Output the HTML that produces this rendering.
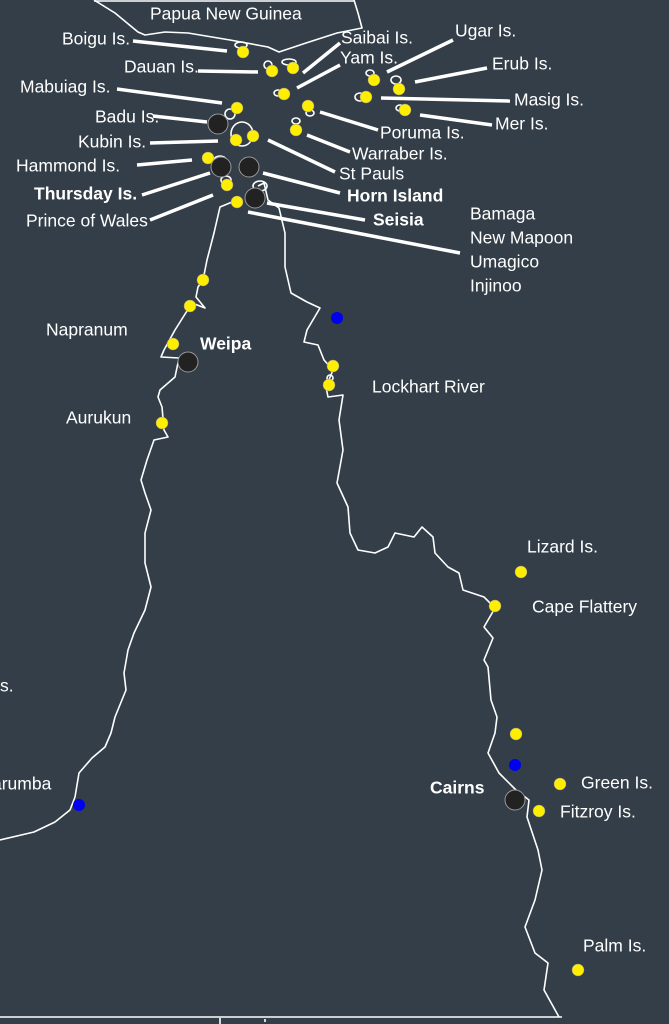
<!DOCTYPE html>
<html><head><meta charset="utf-8"><style>
html,body{margin:0;padding:0;background:#333e48;}
svg{display:block}
text{font-family:"Liberation Sans",sans-serif;font-size:17.5px;fill:#fff;dominant-baseline:middle}
.b{font-weight:bold}
</style></head><body>
<svg width="669" height="1024" viewBox="0 0 669 1024" xmlns="http://www.w3.org/2000/svg">
<rect width="669" height="1024" fill="#333e48"/>
<g fill="none" stroke="#fff" stroke-width="1.6" stroke-linejoin="round">
<path d="M94,0 L115,13 L138,32 L145,35 L165,32 L188,33 L230,40 L268,47 L279,52 L306,43 L337,33 L362,28 L358,13 L354,0"/>
<line x1="94" y1="1" x2="354" y2="1"/>
<path d="M237,200 L220,207 L214,233 L207,260 L203,280 L198,287 L196,297 L205,308 L192,303 L175,330 L164,350 L161,357 L179,358 L175,377 L160,390 L158,397 L162,407 L164,430 L168,437 L154,440 L147,460 L141,480 L145,493 L151,510 L145,533 L145,563 L151,587 L145,610 L134,633 L128,650 L124,673 L126,690 L115,717 L111,733 L105,747 L92,758 L79,773 L75,797 L70,810 L55,822 L34,832 L0,840"/>
<path d="M258,186 L264,183 L268,200 L279,208 L285,233 L285,267 L291,293 L307,302 L320,308 L307,330 L304,342 L318,345 L324,360 L333,370 L326,387 L328,397 L343,395 L339,420 L343,450 L337,483 L348,507 L350,533 L358,550 L375,553 L388,547 L395,533 L414,537 L422,527 L433,537 L435,553 L448,567 L459,573 L463,590 L484,597 L495,608 L484,627 L493,638 L484,660 L488,667 L491,700 L497,717 L495,733 L488,753 L499,773 L516,790 L529,800 L527,817 L538,850 L542,870 L535,900 L525,927 L535,953 L548,963 L544,990 L559,1017"/>
<line x1="0" y1="1017" x2="562" y2="1017"/>
<line x1="220" y1="1018" x2="220" y2="1024"/><line x1="265" y1="1019" x2="265" y2="1022"/>
<ellipse cx="241" cy="45" rx="6" ry="3"/>
<ellipse cx="268" cy="65" rx="4" ry="4"/>
<ellipse cx="289" cy="62" rx="7" ry="3"/>
<ellipse cx="278" cy="93" rx="4" ry="3"/>
<ellipse cx="370" cy="73" rx="4" ry="3"/>
<ellipse cx="396" cy="80" rx="5" ry="4"/>
<ellipse cx="360" cy="97" rx="5" ry="4"/>
<ellipse cx="400" cy="108" rx="4" ry="3"/>
<ellipse cx="310" cy="113" rx="4" ry="3"/>
<ellipse cx="296" cy="121" rx="4" ry="3"/>
<ellipse cx="230" cy="114" rx="5" ry="5"/>
<ellipse cx="242" cy="134" rx="11" ry="12"/>
<ellipse cx="220" cy="160" rx="6" ry="4"/>
<ellipse cx="226" cy="180" rx="5" ry="4"/>
<ellipse cx="260" cy="186" rx="7" ry="5"/>
<ellipse cx="330" cy="378" rx="3" ry="3"/>
</g>
<g stroke="#fff" stroke-width="3.5">
<line x1="133" y1="41" x2="227" y2="51"/>
<line x1="198" y1="71" x2="258" y2="72"/>
<line x1="340" y1="43" x2="303" y2="73"/>
<line x1="340" y1="65" x2="297" y2="88"/>
<line x1="453" y1="40" x2="387" y2="72"/>
<line x1="487" y1="68" x2="415" y2="82"/>
<line x1="381" y1="98" x2="510" y2="101"/>
<line x1="420" y1="115" x2="492" y2="125"/>
<line x1="320" y1="112" x2="378" y2="130"/>
<line x1="307" y1="135" x2="350" y2="152"/>
<line x1="268" y1="140" x2="335" y2="172"/>
<line x1="150" y1="143" x2="218" y2="141"/>
<line x1="153" y1="116" x2="207" y2="122"/>
<line x1="117" y1="89" x2="222" y2="103"/>
<line x1="137" y1="165" x2="192" y2="160"/>
<line x1="142" y1="195" x2="210" y2="173"/>
<line x1="263" y1="173" x2="340" y2="193"/>
<line x1="150" y1="220" x2="213" y2="195"/>
<line x1="267" y1="203" x2="365" y2="220"/>
<line x1="248" y1="212" x2="460" y2="253"/>
</g>
<g fill="#ffee00" stroke="#999" stroke-width="0.5">
<circle cx="243" cy="52" r="6"/><circle cx="272" cy="71" r="6"/><circle cx="293" cy="68" r="6"/>
<circle cx="284" cy="94" r="6"/><circle cx="374" cy="80" r="6"/><circle cx="399" cy="89" r="6"/>
<circle cx="366" cy="97" r="6"/><circle cx="405" cy="110" r="6"/><circle cx="308" cy="106" r="6"/>
<circle cx="296" cy="130" r="6"/><circle cx="253" cy="136" r="6"/><circle cx="236" cy="140" r="6"/>
<circle cx="237" cy="108" r="6"/><circle cx="208" cy="158" r="6"/><circle cx="227" cy="185" r="6"/>
<circle cx="237" cy="202" r="6"/><circle cx="203" cy="280" r="6"/><circle cx="190" cy="306" r="6"/>
<circle cx="173" cy="344" r="6"/><circle cx="162" cy="423" r="6"/><circle cx="333" cy="366" r="6"/>
<circle cx="329" cy="385" r="6"/><circle cx="521" cy="572" r="6"/><circle cx="495" cy="606" r="6"/>
<circle cx="516" cy="734" r="6"/><circle cx="560" cy="784" r="6"/><circle cx="539" cy="811" r="6"/>
<circle cx="578" cy="970" r="6"/>
</g>
<g fill="#0000ee"><circle cx="337" cy="318" r="6"/><circle cx="515" cy="765" r="6"/><circle cx="79" cy="805" r="6"/></g>
<g fill="#222" stroke="#999" stroke-width="1">
<circle cx="218" cy="124" r="10"/><circle cx="221" cy="167" r="10"/><circle cx="249" cy="167" r="10"/>
<circle cx="255" cy="198" r="10"/><circle cx="188" cy="362" r="10"/><circle cx="515" cy="800" r="10"/>
</g>
<text x="150" y="15" font-size="19.5">Papua New Guinea</text>
<text x="62" y="40">Boigu Is.</text>
<text x="124" y="68">Dauan Is.</text>
<text x="341" y="39">Saibai Is.</text>
<text x="340" y="59">Yam Is.</text>
<text x="455" y="32">Ugar Is.</text>
<text x="492" y="65">Erub Is.</text>
<text x="514" y="101">Masig Is.</text>
<text x="495" y="125">Mer Is.</text>
<text x="380" y="134">Poruma Is.</text>
<text x="352" y="155">Warraber Is.</text>
<text x="339" y="175">St Pauls</text>
<text x="20" y="88">Mabuiag Is.</text>
<text x="95" y="118">Badu Is.</text>
<text x="78" y="143">Kubin Is.</text>
<text x="16" y="167">Hammond Is.</text>
<text x="34" y="195" class="b">Thursday Is.</text>
<text x="347" y="197" class="b">Horn Island</text>
<text x="26" y="222">Prince of Wales</text>
<text x="373" y="221" class="b">Seisia</text>
<text x="470" y="215">Bamaga</text>
<text x="470" y="239">New Mapoon</text>
<text x="470" y="263">Umagico</text>
<text x="470" y="287">Injinoo</text>
<text x="46" y="331">Napranum</text>
<text x="200" y="345" class="b">Weipa</text>
<text x="66" y="419">Aurukun</text>
<text x="372" y="388">Lockhart River</text>
<text x="527" y="548">Lizard Is.</text>
<text x="532" y="608">Cape Flattery</text>
<text x="0" y="687">s.</text>
<text x="-8" y="785">arumba</text>
<text x="430" y="789" class="b">Cairns</text>
<text x="581" y="784">Green Is.</text>
<text x="560" y="813">Fitzroy Is.</text>
<text x="583" y="947">Palm Is.</text>
</svg>
</body></html>
